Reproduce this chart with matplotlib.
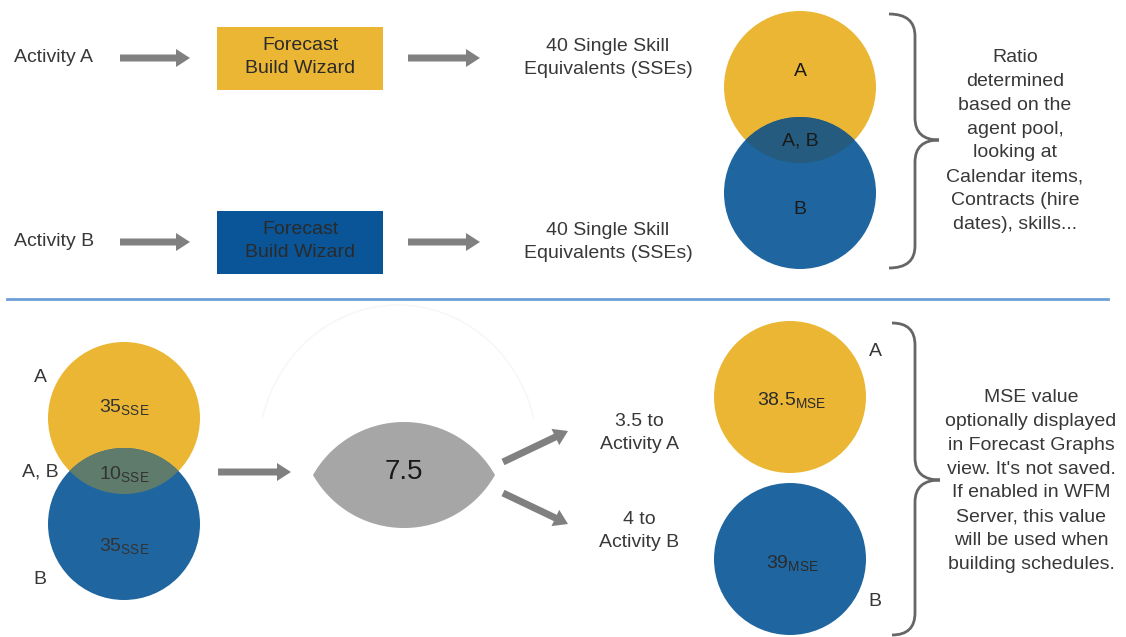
import numpy as np
import matplotlib.pyplot as plt
from matplotlib.patches import Circle, Rectangle, FancyArrow, Polygon, PathPatch, Arc
from matplotlib.path import Path

plt.rcParams['font.family'] = ['Liberation Sans', 'DejaVu Sans']

# values shown in the diagram
activities = ['Activity A', 'Activity B']
sse_single = [40, 40]
pool_labels = ['A', 'A, B', 'B']
pool_sse = [35, 10, 35]          # A only, shared, B only
shared_total = 7.5
shared_split = [3.5, 4]
mse_values = [38.5, 39]
ratio_note = ("Ratio\ndetermined\nbased on the\nagent pool,\nlooking at\n"
              "Calendar items,\nContracts (hire\ndates), skills...")
mse_note = ("MSE value\noptionally displayed\nin Forecast Graphs\nview. It's not saved.\n"
            "If enabled in WFM\nServer, this value\nwill be used when\nbuilding schedules.")

YELLOW = '#EBB634'
BLUE = '#1F66A0'
BOX_BLUE = '#0A5597'
OVER_TOP = '#245B7E'
OVER_BOT = '#5E7B6C'
ARROW = '#808080'
TXT = '#383838'

fig = plt.figure(figsize=(11.26, 6.37), dpi=100)
ax = fig.add_axes([0, 0, 1, 1])
ax.set_xlim(0, 1126)
ax.set_ylim(637, 0)
ax.axis('off')


def arrow(x0, y0, x1, y1):
    ax.add_patch(FancyArrow(x0, y0, x1 - x0, y1 - y0, width=7, head_width=18,
                            head_length=14, length_includes_head=True,
                            color=ARROW, lw=0))


def brace(xl, xm, xt, yt, yb, ytip, r=22):
    verts = [(xl, yt), (xm, yt), (xm, yt + r), (xm, ytip - r),
             (xm, ytip), (xt, ytip), (xm, ytip), (xm, ytip + r),
             (xm, yb - r), (xm, yb), (xl, yb)]
    codes = [Path.MOVETO, Path.CURVE3, Path.CURVE3, Path.LINETO,
             Path.CURVE3, Path.CURVE3, Path.CURVE3, Path.CURVE3,
             Path.LINETO, Path.CURVE3, Path.CURVE3]
    ax.add_patch(PathPatch(Path(verts, codes), fc='none', ec='#666666', lw=2))


def venn(cx, cy_top, cy_bot, r, over_col):
    top = Circle((cx, cy_top), r, fc=YELLOW, ec='none')
    bot = Circle((cx, cy_bot), r, fc=BLUE, ec='none')
    ax.add_patch(top)
    ax.add_patch(bot)
    ov = Circle((cx, cy_top), r, fc=over_col, ec='none')
    ax.add_patch(ov)
    ov.set_clip_path(bot)


# ---- top half ----
rows_y = [58, 242]
box_cols = [YELLOW, BOX_BLUE]
for i, y in enumerate(rows_y):
    ax.text(14, y, activities[i], fontsize=14, color=TXT, va='center', ha='left')
    arrow(120, y, 190, y)
    ax.add_patch(Rectangle((217, y - 31), 166, 63, fc=box_cols[i], ec='none'))
    ax.text(300, y - 1, 'Forecast\nBuild Wizard', fontsize=14, color='#2a2a2a',
            ha='center', va='center', linespacing=1.4)
    arrow(408, y, 480, y)
    ax.text(608, y, f'{sse_single[i]} Single Skill\nEquivalents (SSEs)', fontsize=14,
            color=TXT, ha='center', va='center', linespacing=1.45)

venn(800, 87, 193, 76, OVER_TOP)
for lab, y in zip(pool_labels, [72, 141, 210]):
    ax.text(800, y, lab, fontsize=14, color='#1a1a1a', ha='center', va='center')

brace(889, 915, 939, 14, 268, 140)
ax.text(1015, 141, ratio_note, fontsize=14, color=TXT, ha='center', va='center',
        linespacing=1.52)

ax.plot([7, 1108], [299, 299], color='#6E9FD6', lw=2)

# ---- bottom half ----
venn(124, 418, 524, 76, OVER_BOT)
for lab, y in zip(pool_labels, [377, 472, 579]):
    ax.text(40, y, lab, fontsize=14, color=TXT, ha='center', va='center')
for val, y in zip(pool_sse, [407, 474, 546]):
    ax.text(124, y, r'$\mathregular{' + str(val) + r'_{SSE}}$', fontsize=14,
            color='#333333', ha='center', va='center')

arrow(218, 472, 291, 472)

# faint ghost arc behind the lens
ax.add_patch(Arc((398, 455), 280, 300, theta1=195, theta2=345, color='#f6f6f6', lw=1))

# lens shape
a, b = 91, 53
R = (a ** 2 + b ** 2) / (2 * b)
xs = np.linspace(-a, a, 120)
top_y = 475 + (R - b) - np.sqrt(R ** 2 - xs ** 2)
bot_y = 475 - (R - b) + np.sqrt(R ** 2 - xs ** 2)
pts = np.concatenate([np.column_stack([404 + xs, top_y]),
                      np.column_stack([404 + xs[::-1], bot_y[::-1]])])
ax.add_patch(Polygon(pts, closed=True, fc='#A6A6A6', ec='none'))
ax.text(404, 472, f'{shared_total}', fontsize=20, color='#1a1a1a',
        ha='center', va='center')

arrow(503, 462, 568, 431)
arrow(503, 493, 568, 524)
split_y = [433, 531]
for i, y in enumerate(split_y):
    val = shared_split[i]
    ax.text(639, y, f'{val:g} to\n{activities[i]}', fontsize=14, color=TXT,
            ha='center', va='center', linespacing=1.5)

venn(790, 397, 559, 76, OVER_BOT)
for val, y in zip(mse_values, [400, 563]):
    ax.text(792, y, r'$\mathregular{' + f'{val:g}' + r'_{MSE}}$', fontsize=14,
            color='#2a2a2a', ha='center', va='center')
ax.text(875, 352, 'A', fontsize=14, color=TXT, ha='center', va='center')
ax.text(875, 602, 'B', fontsize=14, color=TXT, ha='center', va='center')

brace(892, 915, 940, 323, 635, 480)
ax.text(1031, 481, mse_note, fontsize=14, color=TXT, ha='center', va='center',
        linespacing=1.52)

plt.savefig('out.png', dpi=100)
